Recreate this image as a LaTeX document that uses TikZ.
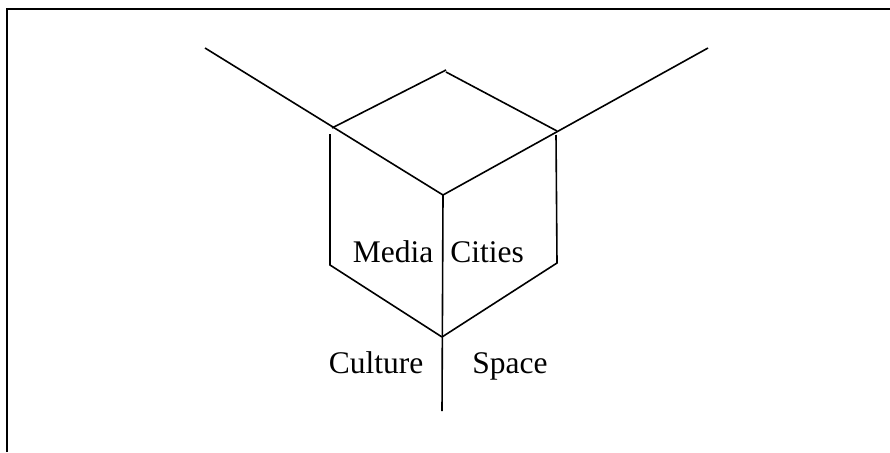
\documentclass[tikz,border=0pt]{standalone}
\usepackage{fontspec}
\setmainfont{Liberation Serif}
\begin{document}
\begin{tikzpicture}[x=1pt,y=-1pt,
  edge/.style={line width=1.6pt},
  frame/.style={line width=2pt},
  lbl/.style={anchor=base,inner sep=0pt,font=\fontsize{31.5}{36}\selectfont}]
\useasboundingbox (0,0) rectangle (890,452);
% frame
\coordinate (f0) at (7,452);
\coordinate (f1) at (7,9);
\coordinate (f2) at (890,9);
\draw[frame] (f0) -- (f1) -- (f2);
% cube points
\coordinate (tl) at (205,48);
\coordinate (tr) at (708,48);
\coordinate (top) at (446,70);
\coordinate (top2) at (446,72);
\coordinate (lc) at (332,128);
\coordinate (rc) at (557,131);
\coordinate (c) at (443,195);
\coordinate (lv0) at (330,134);
\coordinate (lv1) at (330,265);
\coordinate (rv0) at (556,135);
\coordinate (rv1) at (557,263);
\coordinate (b) at (442,337);
\coordinate (end) at (442,411);
\draw[edge] (tl) -- (c);
\draw[edge] (tr) -- (c);
\draw[edge] (lc) -- (top);
\draw[edge] (top2) -- (rc);
\draw[edge] (lv0) -- (lv1) -- (b);
\draw[edge] (rv0) -- (rv1) -- (b);
\draw[edge] (c) -- (end);
% labels
\node[lbl] (media) at (393,262) {Media};
\node[lbl] (cities) at (487,262) {Cities};
\node[lbl] (culture) at (376,373) {Culture};
\node[lbl] (space) at (510,373) {Space};
\end{tikzpicture}
\end{document}
